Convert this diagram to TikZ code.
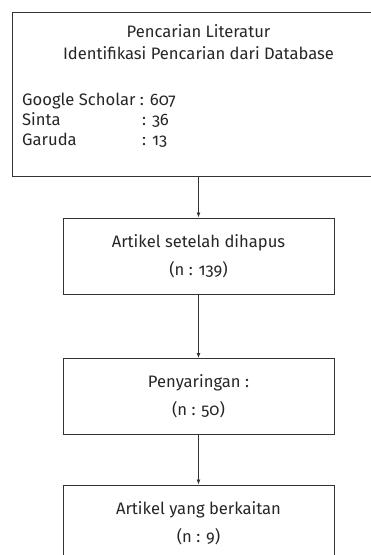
\documentclass[tikz,border=0pt]{standalone}
\usepackage{fontspec}
\setmainfont[Numbers=OldStyle]{Fira Sans}
\usetikzlibrary{positioning,arrows.meta}

\begin{document}
\begin{tikzpicture}[
    x=1pt, y=-1pt,
    >={Latex[length=5pt,width=4pt]},
    every node/.style={font=\fontsize{16.6}{28}\selectfont, text=black!85},
    box/.style={draw=black!80, line width=1pt, minimum width=271pt, minimum height=76pt, align=center},
    bigbox/.style={draw=black!80, line width=1pt, minimum width=373pt, minimum height=164pt},
    txt/.style={anchor=base west, inner sep=0pt}
  ]
  \useasboundingbox (0,0) rectangle (371,555);

  % kotak
  \node[bigbox] (cari) at (198.5,94) {};
  \node[box] (hapus) at (198.5,256) {Artikel setelah dihapus\\(n : 139)};
  \node[box] (saring) at (198.5,396.5) {Penyaringan :\\(n : 50)};
  \node[box] (kait) at (198.5,523) {Artikel yang berkaitan\\(n : 9)};

  % teks kotak atas
  \node[anchor=base, inner sep=0pt] (judul) at (198.5,37) {Pencarian Literatur};
  \node[anchor=base, inner sep=0pt] (ident) at (198.5,59) {Identifikasi Pencarian dari Database};
  \node[txt] (google) at (22,105) {Google Scholar : 607};
  \node[txt] (sinta) at (22,125) {Sinta};
  \node[txt] (sintan) at (142,125) {: 36};
  \node[txt] (garuda) at (22,145) {Garuda};
  \node[txt] (garudan) at (142,145) {: 13};

  % panah
  \draw[->, draw=black!80, line width=0.8pt] (cari) -- (hapus);
  \draw[->, draw=black!80, line width=0.8pt] (hapus) -- (saring);
  \draw[->, draw=black!80, line width=0.8pt] (saring) -- (kait);

\end{tikzpicture}
\end{document}
